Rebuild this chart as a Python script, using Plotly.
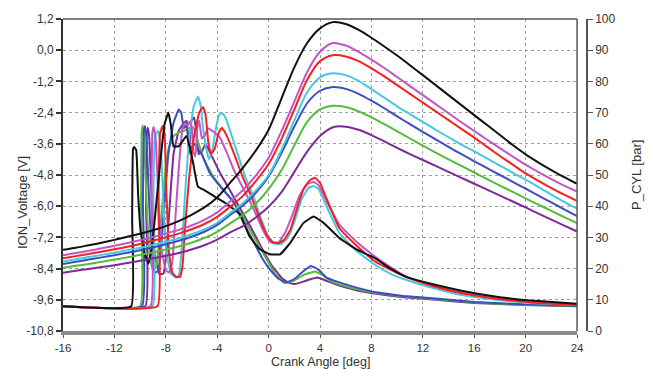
import plotly.graph_objects as go

# ---------------- data ----------------
crank_deg = [-16, -15, -14, -13, -12, -11, -10, -9, -8, -7, -6, -5, -4, -3, -2, -1, 0,
             1, 2, 3, 4, 5, 6, 7, 8, 9, 10, 11, 12, 13, 14, 15, 16, 17, 18, 19, 20,
             21, 22, 23, 24]

p_black = [26.0, 26.7, 27.5, 28.3, 29.2, 30.2, 31.2, 32.3, 33.6, 35.2, 37.2, 39.6, 42.8, 47.5,
           52.3, 57.8, 64.5, 74.5, 84.5, 92.3, 97.0, 99.0, 98.4, 96.5, 94.0, 91.2, 88.3, 85.2,
           82.0, 78.8, 75.6, 72.4, 69.2, 66.0, 62.8, 59.6, 56.6, 54.0, 51.6, 49.3, 47.2]
p_magenta = [24.3, 25.0, 25.7, 26.5, 27.3, 28.2, 29.1, 30.1, 31.2, 32.4, 33.8, 35.6, 38.0, 41.5,
             45.2, 49.8, 55.5, 64.0, 73.5, 83.0, 89.5, 92.3, 91.5, 89.5, 87.0, 84.3, 81.4, 78.5,
             75.6, 72.7, 69.8, 66.9, 64.1, 61.3, 58.6, 55.9, 53.3, 50.9, 48.7, 46.6, 44.7]
p_red = [23.3, 24.0, 24.7, 25.4, 26.2, 27.0, 27.9, 28.9, 30.0, 31.2, 32.6, 34.3, 36.6, 39.8,
         43.3, 48.0, 53.5, 61.5, 71.0, 80.5, 86.5, 88.4, 88.0, 86.5, 84.2, 81.6, 78.8, 76.0,
         73.2, 70.4, 67.6, 64.8, 62.0, 59.0, 56.1, 53.3, 50.5, 48.1, 45.8, 43.7, 41.7]
p_cyan = [22.3, 23.0, 23.7, 24.4, 25.1, 25.9, 26.7, 27.6, 28.6, 29.7, 31.0, 32.6, 34.7, 37.8,
          41.0, 45.0, 50.0, 58.0, 67.5, 76.5, 81.3, 82.6, 82.0, 80.2, 77.5, 74.8, 72.0, 69.5,
          67.0, 64.5, 62.1, 59.7, 57.6, 55.3, 53.0, 50.7, 48.5, 46.1, 43.7, 41.4, 39.2]
p_blue = [21.5, 22.2, 22.9, 23.6, 24.3, 25.1, 25.9, 26.8, 27.8, 28.9, 30.2, 31.8, 34.0, 37.2,
          40.2, 44.3, 49.5, 57.0, 65.5, 73.0, 77.0, 78.2, 77.6, 76.0, 73.8, 71.4, 68.8, 66.3,
          63.8, 61.4, 59.0, 56.7, 54.4, 52.2, 50.0, 47.8, 45.6, 43.4, 41.2, 39.0, 36.8]
p_green = [20.3, 20.9, 21.5, 22.2, 22.9, 23.6, 24.4, 25.2, 26.1, 27.1, 28.3, 29.8, 31.8, 34.5,
           37.2, 40.8, 45.5, 51.5, 59.5, 67.0, 71.0, 72.2, 71.8, 70.4, 68.5, 66.3, 64.0, 61.7,
           59.4, 57.2, 55.0, 52.9, 50.8, 48.7, 46.6, 44.6, 42.5, 40.5, 38.5, 36.5, 34.6]
p_purple = [18.7, 19.3, 19.9, 20.5, 21.1, 21.8, 22.5, 23.3, 24.1, 25.0, 26.1, 27.5, 29.3, 31.6,
            33.6, 36.4, 39.8, 44.5, 51.0, 57.5, 62.5, 65.3, 65.5, 64.5, 62.8, 60.8, 58.7, 56.7,
            54.8, 52.9, 51.0, 49.1, 47.2, 45.3, 43.4, 41.5, 39.6, 37.6, 35.7, 33.8, 31.9]

ion_black_x = [-16, -10.7, -10.62, -10.55, -10.45, -10.3, -10.15, -9.95, -9.6, -9.35, -9.1, -8.8,
               -8.45, -8.1, -7.8, -7.6, -7.4, -7.0, -6.7, -6.4, -6.1, -5.85, -5.5, -5.0, -4.2,
               -3.3, -2.2, -1.5, -0.7, 0.1, 0.9, 1.7, 2.7, 3.5, 4.3, 5.5, 6.8, 8.2, 9.5, 10.8,
               12.8, 15, 18, 21, 24]
ion_black_v = [-9.85, -9.85, -6.5, -3.8, -3.72, -3.85, -5.6, -7.0, -7.9, -8.2, -7.6, -6.2,
               -4.4, -2.85, -2.4, -2.9, -3.7, -3.7, -3.5, -3.3, -3.8, -4.4, -5.25, -5.38, -5.63,
               -5.9, -6.33, -7.15, -7.65, -7.85, -7.85, -7.4, -6.65, -6.4, -6.65, -7.22, -7.65,
               -7.98, -8.4, -8.74, -9.0, -9.25, -9.5, -9.65, -9.75]

ion_red_x = [-16, -8.65, -8.58, -8.45, -8.25, -8.1, -7.95, -7.75, -7.5, -7.2, -6.9, -6.7, -6.5,
             -6.2, -5.8, -5.4, -5.1, -4.9, -4.7, -4.5, -4.2, -3.9, -3.65, -3.35, -2.75, -2.0,
             -1.45, -0.67, -0.15, 0.3, 0.8, 1.2, 1.7, 2.2, 2.7, 3.2, 3.6, 4.0, 4.5, 5.5, 6.8,
             8.2, 9.5, 10.8, 12.8, 15, 18, 21, 24]
ion_red_v = [-9.85, -9.85, -6.0, -3.2, -2.92, -3.2, -5.5, -7.8, -8.55, -8.72, -8.72, -8.3, -6.8,
             -5.0, -3.3, -2.4, -2.18, -2.5, -3.5, -4.0, -3.8, -3.2, -2.98, -3.2, -3.9, -4.9,
             -5.5, -6.5, -7.1, -7.38, -7.42, -7.3, -6.9, -6.1, -5.35, -5.0, -4.91, -5.1, -5.7,
             -6.84, -7.5, -8.1, -8.45, -8.74, -9.08, -9.35, -9.58, -9.72, -9.8]

ion_cyan_x = [-16, -9.05, -8.97, -8.85, -8.6, -8.4, -8.2, -7.95, -7.6, -7.2, -6.95, -6.75, -6.5,
              -6.2, -5.85, -5.5, -5.3, -5.1, -4.85, -4.65, -4.4, -4.1, -3.85, -3.6, -3.35, -3.0,
              -2.4, -1.8, -1.2, -0.5, 0.0, 0.5, 1.0, 1.5, 2.0, 2.6, 3.1, 3.5, 3.9, 4.5, 5.5, 6.8,
              8.2, 9.5, 10.8, 12.8, 15, 18, 21, 24]
ion_cyan_v = [-9.85, -9.85, -6.0, -3.3, -3.1, -3.6, -5.8, -7.8, -8.6, -8.75, -8.6, -7.5, -5.5,
              -3.5, -2.2, -1.78, -2.1, -3.0, -3.8, -4.2, -3.9, -3.0, -2.5, -2.42, -2.6, -3.1,
              -4.0, -4.9, -5.6, -6.6, -7.2, -7.45, -7.45, -7.2, -6.6, -5.7, -5.3, -5.22, -5.35,
              -6.0, -7.03, -7.7, -8.23, -8.6, -8.85, -9.15, -9.42, -9.62, -9.74, -9.8]

ion_magenta_x = [-16, -9.2, -9.12, -9.05, -8.95, -8.8, -8.6, -8.35, -8.0, -7.75, -7.5, -7.3,
                 -7.0, -6.7, -6.5, -6.3, -6.15, -6.0, -5.85, -5.7, -5.55, -5.4, -5.2, -5.0, -4.7,
                 -4.4, -3.8, -3.2, -2.75, -2.1, -1.45, -0.9, -0.4, 0.0, 0.3, 0.8, 1.3, 1.8, 2.4,
                 3.0, 3.5, 3.9, 4.5, 5.5, 6.8, 8.2, 9.5, 10.8, 12.8, 15, 18, 21, 24]
ion_magenta_v = [-9.85, -9.85, -6.0, -3.2, -2.95, -3.3, -5.5, -7.6, -8.45, -8.55, -8.2, -6.8,
                 -4.6, -3.0, -2.8, -2.9, -2.75, -2.9, -3.9, -4.1, -3.0, -2.7, -3.4, -3.3, -3.0,
                 -3.1, -3.35, -4.0, -4.56, -5.2, -5.82, -6.4, -6.96, -7.3, -7.42, -7.38, -7.0,
                 -6.4, -5.6, -5.15, -5.07, -5.2, -5.8, -6.71, -7.35, -7.91, -8.35, -8.74, -9.05,
                 -9.32, -9.56, -9.7, -9.78]

ion_blue_x = [-16, -9.85, -9.78, -9.72, -9.62, -9.5, -9.3, -9.05, -8.85, -8.6, -8.35, -8.1, -7.8,
              -7.4, -7.0, -6.8, -6.6, -6.4, -6.1, -5.8, -5.5, -5.2, -4.6, -3.5, -2.75, -1.9,
              -1.2, -0.5, 0.2, 0.8, 1.4, 2.0, 2.7, 3.3, 3.9, 4.5, 5.5, 7.0, 8.5, 10.5, 13, 16,
              20, 24]
ion_blue_v = [-9.85, -9.85, -6.0, -3.2, -2.92, -3.4, -5.8, -7.9, -8.55, -8.5, -7.5, -5.8, -4.0,
              -2.8, -2.28, -2.4, -3.0, -2.9, -3.8, -3.6, -3.8, -4.0, -4.7, -5.4, -5.82, -6.7,
              -7.34, -8.0, -8.5, -8.8, -8.93, -8.8, -8.5, -8.3, -8.45, -8.75, -8.93, -9.15,
              -9.32, -9.45, -9.55, -9.68, -9.78, -9.83]

ion_green_x = [-16, -10.0, -9.93, -9.88, -9.8, -9.7, -9.5, -9.25, -9.0, -8.75, -8.45, -8.15, -7.8,
               -7.4, -7.0, -6.6, -6.2, -5.86, -5.5, -5.1, -4.3, -3.26, -2.5, -1.7, -1.0, -0.2,
               0.5, 1.2, 1.9, 2.7, 3.6, 4.2, 5.0, 6.5, 8.5, 10.5, 13, 16, 20, 24]
ion_green_v = [-9.85, -9.85, -6.0, -3.2, -2.9, -3.3, -5.8, -7.9, -8.48, -8.3, -7.0, -5.2, -3.8,
               -3.3, -3.17, -3.1, -3.0, -2.98, -3.5, -4.12, -4.87, -5.51, -6.0, -6.7, -7.3, -8.0,
               -8.6, -8.95, -8.88, -8.65, -8.51, -8.65, -8.92, -9.15, -9.35, -9.47, -9.58, -9.7,
               -9.8, -9.83]

ion_purple_x = [-16, -9.6, -9.54, -9.48, -9.4, -9.28, -9.1, -8.85, -8.5, -8.2, -7.95, -7.7, -7.4,
                -7.0, -6.6, -6.37, -6.2, -6.0, -5.8, -5.6, -5.45, -5.2, -4.9, -4.5, -3.8, -3.0,
                -2.2, -1.4, -0.6, 0.2, 1.0, 1.6, 2.05, 2.7, 3.3, 3.8, 4.4, 5.5, 7.0, 8.5, 10.5,
                13, 16, 20, 24]
ion_purple_v = [-9.85, -9.85, -6.0, -3.2, -2.98, -3.4, -5.8, -7.9, -8.6, -8.6, -7.8, -6.0, -4.0,
                -3.1, -2.8, -2.72, -4.0, -2.7, -2.6, -3.2, -4.0, -3.9, -3.6, -4.0, -4.7, -5.4,
                -6.1, -6.8, -7.55, -8.25, -8.75, -8.95, -8.99, -8.9, -8.8, -8.74, -8.85, -9.05,
                -9.25, -9.38, -9.5, -9.6, -9.72, -9.8, -9.85]

x_tickvals = [-16, -12, -8, -4, 0, 4, 8, 12, 16, 20, 24]
x_ticktext = ["-16", "-12", "-8", "-4", "0", "4", "8", "12", "16", "20", "24"]
v_tickvals = [1.2, 0.0, -1.2, -2.4, -3.6, -4.8, -6.0, -7.2, -8.4, -9.6, -10.8]
v_ticktext = ["1,2", "0,0", "-1,2", "-2,4", "-3,6", "-4,8", "-6,0", "-7,2", "-8,4", "-9,6", "-10,8"]
p_tickvals = [0, 10, 20, 30, 40, 50, 60, 70, 80, 90, 100]

colors = {
    "black": "#111111",
    "magenta": "#c455c4",
    "red": "#f52020",
    "cyan": "#48c8e0",
    "blue": "#3a4fbf",
    "green": "#55bb3a",
    "purple": "#7d2a96",
}

pressure = [("black", p_black), ("magenta", p_magenta), ("red", p_red), ("cyan", p_cyan),
            ("blue", p_blue), ("green", p_green), ("purple", p_purple)]
ion = [("purple", ion_purple_x, ion_purple_v), ("green", ion_green_x, ion_green_v),
       ("blue", ion_blue_x, ion_blue_v), ("cyan", ion_cyan_x, ion_cyan_v),
       ("magenta", ion_magenta_x, ion_magenta_v), ("red", ion_red_x, ion_red_v),
       ("black", ion_black_x, ion_black_v)]

fig = go.Figure()
for name, xs, vs in ion:
    fig.add_trace(go.Scatter(x=xs, y=vs, mode="lines", yaxis="y",
                             line=dict(color=colors[name], width=2, shape="spline", smoothing=0.3),
                             showlegend=False, hoverinfo="skip"))
for name, ps in reversed(pressure):
    fig.add_trace(go.Scatter(x=crank_deg, y=ps, mode="lines", yaxis="y2",
                             line=dict(color=colors[name], width=2, shape="spline", smoothing=0.8),
                             showlegend=False, hoverinfo="skip"))

font_family = "Liberation Sans, Arial, sans-serif"
xr = 0.981

fig.update_layout(
    width=650, height=372,
    margin=dict(l=63, r=63, t=15, b=41),
    paper_bgcolor="white", plot_bgcolor="white",
    font=dict(family=font_family, size=12, color="#333333"),
    showlegend=False,
    xaxis=dict(domain=[0, xr], range=[-16, 24], tickvals=x_tickvals, ticktext=x_ticktext,
               showgrid=True, gridcolor="#a0a0a0", griddash="dot", gridwidth=1,
               showline=True, linecolor="#8c8c8c", linewidth=4,
               ticks="outside", ticklen=3, tickcolor="#555", tickwidth=1,
               zeroline=False, tickfont=dict(size=11.5, color="#333")),
    yaxis=dict(range=[-10.8, 1.2], tickvals=v_tickvals, ticktext=v_ticktext,
               showgrid=True, gridcolor="#a0a0a0", griddash="dot", gridwidth=1,
               showline=True, linecolor="#333", linewidth=2,
               ticks="outside", ticklen=5, tickcolor="#333", tickwidth=1.5,
               zeroline=False, tickfont=dict(size=12, color="#333")),
    yaxis2=dict(range=[0, 100], tickvals=p_tickvals, overlaying="y", side="right",
                anchor="free", position=1.0, showgrid=False,
                showline=True, linecolor="#555", linewidth=1.5,
                ticks="outside", ticklen=5, tickcolor="#555", tickwidth=1,
                zeroline=False, tickfont=dict(size=12, color="#333")),
    shapes=[
        dict(type="line", xref="paper", yref="paper", x0=0, x1=xr, y0=1, y1=1,
             line=dict(color="#555", width=1.5)),
        dict(type="line", xref="paper", yref="paper", x0=xr, x1=xr, y0=0, y1=1,
             line=dict(color="#555", width=1.5)),
    ],
    annotations=[
        dict(text="Crank Angle [deg]", xref="paper", yref="paper", x=0.5 * xr, y=0,
             yshift=-22, showarrow=False, yanchor="top", font=dict(size=12.5, color="#333")),
        dict(text="ION_Voltage [V]", xref="paper", yref="paper", x=0, xshift=-41, y=0.41,
             textangle=-90, showarrow=False, xanchor="center", font=dict(size=13, color="#333")),
        dict(text="P_CYL [bar]", xref="paper", yref="paper", x=1, xshift=49, y=0.5,
             textangle=-90, showarrow=False, xanchor="center", font=dict(size=13, color="#333")),
    ],
)

fig.write_html("out.html", config={"displayModeBar": False},
               post_script="document.body.style.margin='0';document.body.style.overflow='hidden';")
